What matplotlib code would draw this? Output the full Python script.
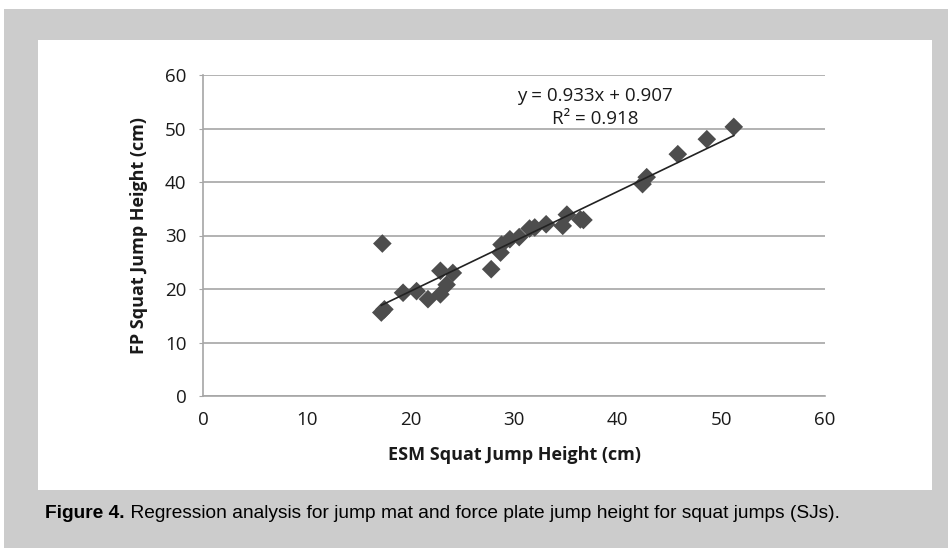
import matplotlib
matplotlib.use("Agg")
import matplotlib.pyplot as plt
from matplotlib.patches import Rectangle
import numpy as np

# Data
esm = [17.2, 17.5, 17.3, 19.3, 20.6, 21.7, 22.9, 22.9, 23.5, 24.1, 27.8, 28.7, 28.8,
       29.6, 30.5, 31.5, 32.0, 33.1, 34.7, 35.1, 36.4, 36.7, 42.4, 42.8, 45.8, 48.6, 51.2]
fp = [15.6, 16.2, 28.5, 19.3, 19.6, 18.1, 23.4, 19.0, 20.8, 23.0, 23.7, 26.8, 28.3,
      29.3, 29.7, 31.3, 31.5, 32.1, 31.8, 33.9, 33.0, 32.9, 39.6, 40.9, 45.2, 48.0, 50.3]
slope = 0.933
intercept = 0.907
r2 = 0.918
xticks = [0, 10, 20, 30, 40, 50, 60]
yticks = [0, 10, 20, 30, 40, 50, 60]
xlabel = "ESM Squat Jump Height (cm)"
ylabel = "FP Squat Jump Height (cm)"
caption_bold = "Figure 4."
caption_rest = " Regression analysis for jump mat and force plate jump height for squat jumps (SJs)."

W, H = 948, 548
fig = plt.figure(figsize=(W / 100, H / 100), dpi=100)
fig.patch.set_facecolor("white")

def px(x0, y0, x1, y1):
    return (x0 / W, 1 - y1 / H, (x1 - x0) / W, (y1 - y0) / H)

bx = px(4, 9, 948, 548)
fig.patches.append(Rectangle((bx[0], bx[1]), bx[2], bx[3], transform=fig.transFigure,
                             facecolor="#cccccc", edgecolor="none", zorder=-10))
wx = px(38, 40, 932, 490)
fig.patches.append(Rectangle((wx[0], wx[1]), wx[2], wx[3], transform=fig.transFigure,
                             facecolor="white", edgecolor="none", zorder=-9))

ax = fig.add_axes(px(203, 75, 825, 396))
ax.set_zorder(1)
ax.set_facecolor("none")
ax.set_xlim(0, 60)
ax.set_ylim(0, 60)
ax.set_xticks(xticks)
ax.set_yticks(yticks)
ax.yaxis.grid(True, color="#a6a6a6", linewidth=1.2)
ax.set_axisbelow(True)
for s in ["top", "right"]:
    ax.spines[s].set_visible(False)
for s in ["left", "bottom"]:
    ax.spines[s].set_color("#a6a6a6")
    ax.spines[s].set_linewidth(1.2)

font = ["Open Sans", "DejaVu Sans"]
ax.tick_params(axis="y", length=3, color="#a6a6a6", labelsize=13.5, pad=9)
ax.tick_params(axis="x", length=0, labelsize=13.5, pad=11)
for lab in ax.get_xticklabels() + ax.get_yticklabels():
    lab.set_family(font)
    lab.set_color("#1a1a1a")

ax.scatter(esm, fp, marker="D", s=90, color="#4d4d4d", edgecolors="none", zorder=3)

xs = np.array([min(esm), max(esm)])
ax.plot(xs, slope * xs + intercept, color="#222222", linewidth=1.2, zorder=4)

ax.set_xlabel(xlabel, family=font, fontsize=13, fontweight="bold", labelpad=12, color="#1a1a1a")
ax.set_ylabel(ylabel, family=font, fontsize=13, fontweight="bold", labelpad=12, color="#1a1a1a")

fig.text(595 / W, 1 - 96 / H, f"y = {slope:.3f}x + {intercept:.3f}", family=font,
         fontsize=13.5, ha="center", va="center", color="#1a1a1a")
fig.text(595 / W, 1 - 119 / H, f"R² = {r2:.3f}", family=font,
         fontsize=13.5, ha="center", va="center", color="#1a1a1a")

cap = ["Liberation Sans", "DejaVu Sans"]
t1 = fig.text(45 / W, 1 - 513 / H, caption_bold, family=cap, fontsize=13.8,
              fontweight="bold", ha="left", va="center", color="black")
fig.canvas.draw()
bb = t1.get_window_extent()
fig.text(bb.x1 / W, 1 - 513 / H, caption_rest, family=cap, fontsize=13.8,
         ha="left", va="center", color="black")

fig.savefig("out.png", dpi=100, facecolor=fig.get_facecolor())
